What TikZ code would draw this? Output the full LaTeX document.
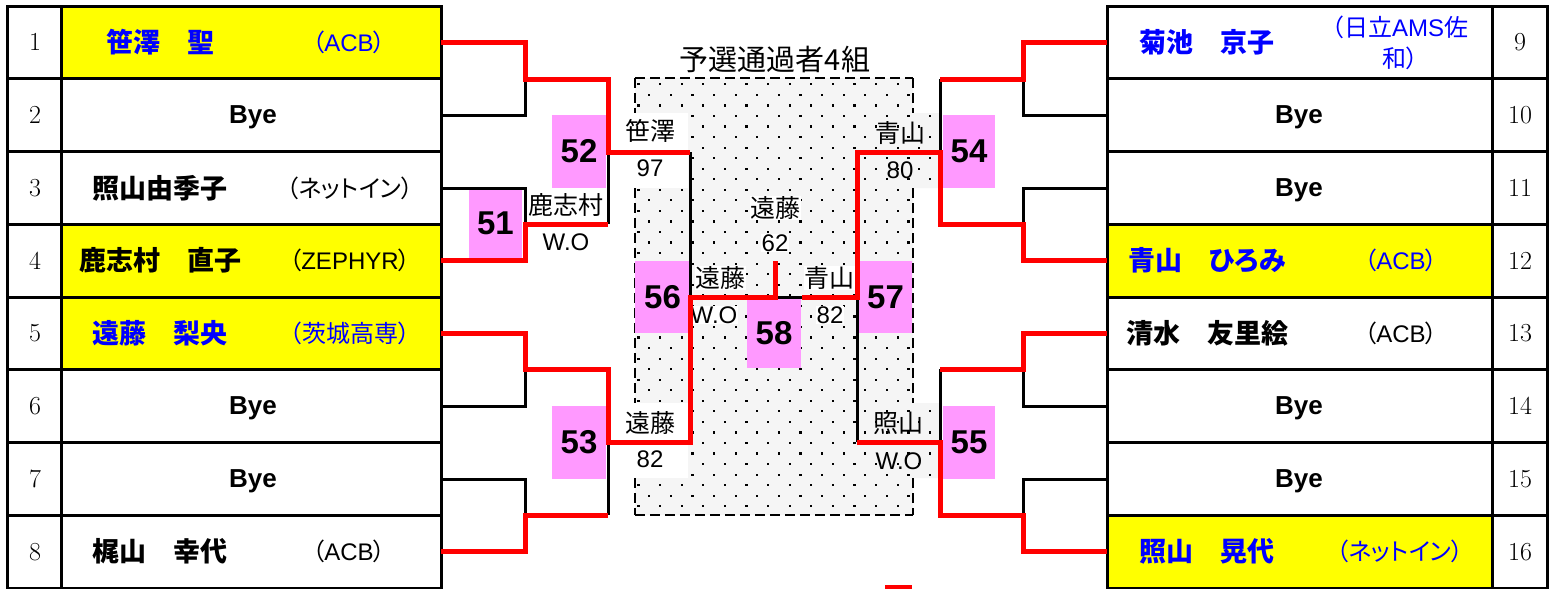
\documentclass[tikz,border=0pt]{standalone}
\usepackage{fontspec}
\newfontfamily\jp[RawFeature=+palt]{Noto Sans CJK JP}
\newfontfamily\ar{Liberation Sans}
\definecolor{pk}{HTML}{FF99FF}
\definecolor{yl}{HTML}{FFFF00}
\definecolor{bl}{HTML}{0000FF}
\definecolor{rd}{HTML}{FF0000}
\tikzset{
  nm/.style={inner sep=0pt,font=\jp\bfseries\fontsize{27}{30}\selectfont},
  af/.style={inner sep=0pt,font=\jp\fontsize{24}{31}\selectfont,align=center},
  bye/.style={inner sep=0pt,font=\ar\bfseries\fontsize{26}{30}\selectfont},
  num/.style={inner sep=0pt,font=\rmfamily\fontsize{26}{30}\selectfont},
  lab/.style={inner sep=0.5pt,font=\jp\fontsize{25}{28}\selectfont},
  labn/.style={inner sep=0.5pt,font=\ar\fontsize{24}{28}\selectfont},
  pb/.style={fill=pk,inner sep=0pt,font=\ar\bfseries\fontsize{33}{36}\selectfont},
  grid/.style={line width=3pt,black},
  blk/.style={line width=3pt,black},
  red/.style={line width=5pt,rd},
  dsh/.style={line width=2.5pt,black,dash pattern=on 10pt off 5pt}
}
\begin{document}
\begin{tikzpicture}[x=1pt,y=-1pt]
\useasboundingbox (0,0) rectangle (1556,589);
\fill[white] (0,0) rectangle (1556,589);

% ---------- left table ----------
\fill[yl] (61,6) rectangle (441,78.75);
\fill[yl] (61,224.25) rectangle (441,369.75);
\draw[grid] (7,6) rectangle (441,588);
\draw[grid] (61,6) -- (61,588);
\foreach \i in {1,...,7} \draw[grid] (7,{6+72.75*\i}) -- (441,{6+72.75*\i});

% ---------- right table ----------
\fill[yl] (1107,224.25) rectangle (1492,297);
\fill[yl] (1107,515.25) rectangle (1492,588);
\draw[grid] (1107,6) rectangle (1547,588);
\draw[grid] (1492,6) -- (1492,588);
\foreach \i in {1,...,7} \draw[grid] (1107,{6+72.75*\i}) -- (1547,{6+72.75*\i});

% numbers
\foreach \i in {1,...,8} \node[num] (ln\i) at (35,{42.4+72.75*(\i-1)}) {\i};
\foreach \i [evaluate=\i as \n using int(\i+8)] in {1,...,8} \node[num] (rn\i) at (1520,{42.4+72.75*(\i-1)}) {\n};

% left entries
\node[nm,text=bl] (p1) at (160,42.4) {笹澤　聖};
\node[af,text=bl] (a1) at (349,42.4) {（{\ar ACB}）};
\node[bye] (p2) at (253,117) {Bye};
\node[nm] (p3) at (160,187.9) {照山由季子};
\node[af] (a3) at (350,187.9) {（ネットイン）};
\node[nm] (p4) at (160,260.6) {鹿志村　直子};
\node[af] (a4) at (350,260.6) {（{\ar ZEPHYR}）};
\node[nm,text=bl] (p5) at (160,333.4) {遠藤　梨央};
\node[af,text=bl] (a5) at (350,333.4) {（茨城高専）};
\node[bye] (p6) at (253,408) {Bye};
\node[bye] (p7) at (253,480.8) {Bye};
\node[nm] (p8) at (160,551.6) {梶山　幸代};
\node[af] (a8) at (349,551.6) {（{\ar ACB}）};

% right entries
\node[nm,text=bl] (p9) at (1207,42.4) {菊池　京子};
\node[af,text=bl] (a9) at (1400,42.4) {（日立{\ar AMS}佐\\和）};
\node[bye] (p10) at (1299,117) {Bye};
\node[bye] (p11) at (1299,189.8) {Bye};
\node[nm,text=bl] (p12) at (1207,260.6) {青山　ひろみ};
\node[af,text=bl] (a12) at (1401,260.6) {（{\ar ACB}）};
\node[nm] (p13) at (1207,333.4) {清水　友里絵};
\node[af] (a13) at (1401,333.4) {（{\ar ACB}）};
\node[bye] (p14) at (1299,408) {Bye};
\node[bye] (p15) at (1299,480.8) {Bye};
\node[nm,text=bl] (p16) at (1207,551.6) {照山　晃代};
\node[af,text=bl] (a16) at (1400,551.6) {（ネットイン）};

% ---------- centre box ----------
\begin{scope}
\clip (635,78) rectangle (913,515) (913,113) rectangle (942,188) (913,403) rectangle (942,478);
\fill[black!4] (630,70) rectangle (945,520);
\foreach \j in {0,...,41} {
  \foreach \k in {0,...,14} {
    \fill ({638.4+21.6*\k+10.8*mod(\j,2)-1},{84.2+10.55*\j-1}) rectangle +(2.2,2.2);
  }
}
\end{scope}
\fill[white] (620,113) rectangle (688,188);
\fill[white] (620,403) rectangle (688,478);
\draw[dsh] (635,78) -- (913,78);
\draw[dsh] (635,515) -- (913,515);
\draw[dsh] (635,78) -- (635,113) (635,188) -- (635,403) (635,478) -- (635,515);
\draw[dsh] (913,78) -- (913,113) (913,188) -- (913,403) (913,478) -- (913,515);
\node[inner sep=0pt,font=\jp\fontsize{29}{32}\selectfont] (title) at (775,60) {予選通過者4組};

% ---------- match boxes ----------
\node[pb,minimum width=53pt,minimum height=70pt] (m51) at (495.5,223.5) {51};
\node[pb,minimum width=54pt,minimum height=73pt] (m52) at (579,151.5) {52};
\node[pb,minimum width=54pt,minimum height=73pt] (m53) at (579,442.5) {53};
\node[pb,minimum width=52pt,minimum height=73pt] (m54) at (969,151.5) {54};
\node[pb,minimum width=52pt,minimum height=73pt] (m55) at (969,442.5) {55};
\node[pb,minimum width=55pt,minimum height=72pt] (m56) at (662.5,297) {56};
\node[pb,minimum width=53pt,minimum height=72pt] (m57) at (885.5,297) {57};
\node[pb,minimum width=54pt,minimum height=70pt] (m58) at (774,333) {58};

% ---------- result labels ----------
\node[lab] (w52) at (650,131) {笹澤};
\node[labn] (s52) at (650,168) {97};
\node[lab] (w51) at (566,205) {鹿志村};
\node[labn] (s51) at (566,242) {W.O};
\node[lab] (w53) at (650,423) {遠藤};
\node[labn] (s53) at (650,459) {82};
\node[lab,fill=white] (w58) at (775,208) {遠藤};
\node[labn,fill=white] (s58) at (775,243) {62};
\node[lab,fill=white] (w56) at (720,278) {遠藤};
\node[labn,fill=white] (s56) at (714,315) {W.O};
\node[lab,fill=white] (w57) at (829,278) {青山};
\node[labn,fill=white] (s57) at (830,315) {82};
\node[lab] (w54) at (900,133) {青山};
\node[labn] (s54) at (900,170) {80};
\node[lab] (w55) at (898,423) {照山};
\node[labn] (s55) at (899,461) {W.O};

% ---------- bracket lines: black ----------
\draw[blk] (441,115) -- (525,115) -- (525,79);
\draw[blk] (441,188) -- (525,188) -- (525,224);
\draw[blk] (608,152) -- (608,224);
\draw[blk] (441,406) -- (525,406) -- (525,369);
\draw[blk] (441,479) -- (525,479) -- (525,515);
\draw[blk] (608,442) -- (608,515);
\draw[blk] (690,152) -- (690,297);
\draw[blk] (775,297) -- (802,297);
\draw[blk] (857,297) -- (857,442);
\draw[blk] (1107,115) -- (1023,115) -- (1023,79);
\draw[blk] (1107,188) -- (1023,188) -- (1023,224);
\draw[blk] (940,79) -- (940,152);
\draw[blk] (1107,406) -- (1023,406) -- (1023,369);
\draw[blk] (1107,479) -- (1023,479) -- (1023,515);
\draw[blk] (940,369) -- (940,442);

% ---------- bracket lines: red ----------
\draw[red] (441,42) -- (525,42) -- (525,79) -- (608,79) -- (608,152) -- (690,152);
\draw[red] (441,260) -- (525,260) -- (525,224) -- (608,224);
\draw[red] (441,333) -- (525,333) -- (525,369) -- (608,369) -- (608,442) -- (690,442) -- (690,297) -- (775,297) -- (775,261);
\draw[red] (441,551) -- (525,551) -- (525,515) -- (608,515);
\draw[red] (802,297) -- (857,297) -- (857,152) -- (940,152) -- (940,224) -- (1023,224) -- (1023,260) -- (1107,260);
\draw[red] (1107,42) -- (1023,42) -- (1023,79) -- (940,79);
\draw[red] (857,442) -- (940,442) -- (940,515) -- (1023,515) -- (1023,551) -- (1107,551);
\draw[red] (1107,333) -- (1023,333) -- (1023,369) -- (940,369);
\coordinate (mk1) at (885,587);
\coordinate (mk2) at (912,587);
\draw[red] (mk1) -- (mk2);
\end{tikzpicture}
\end{document}
